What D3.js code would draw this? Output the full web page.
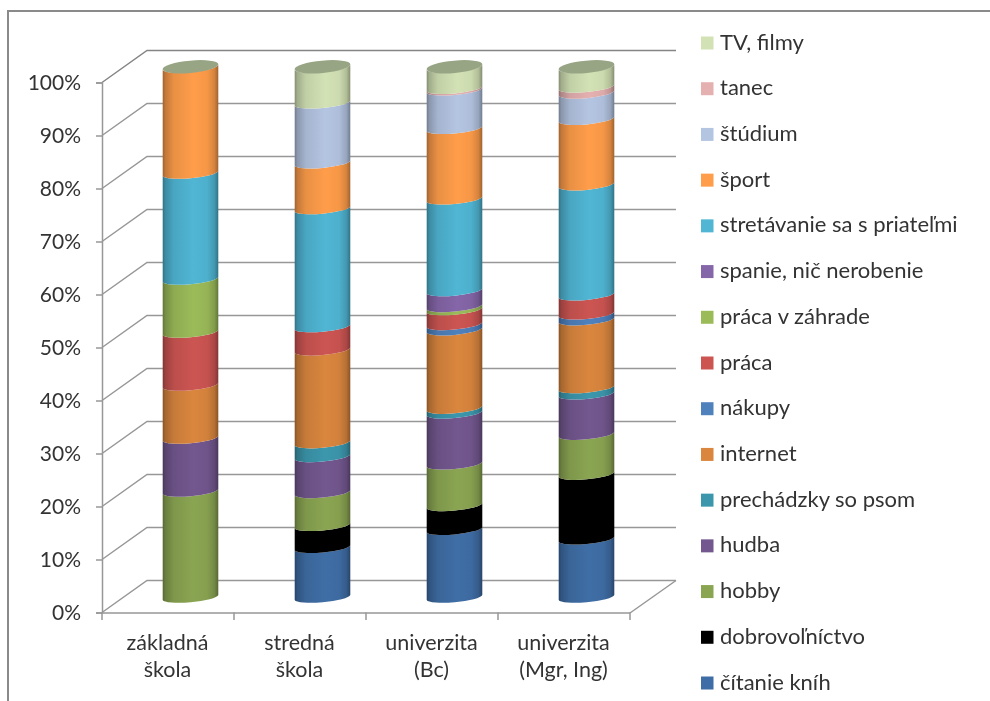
<!DOCTYPE html>
<html><head><meta charset="utf-8">
<script src="https://cdnjs.cloudflare.com/ajax/libs/d3/7.8.5/d3.min.js"></script>
<style>html,body{margin:0;padding:0;background:#fff;overflow:hidden}svg{display:block;filter:blur(0.4px)}text{font-family:Lato,Carlito,sans-serif;fill:#333}</style>
</head><body><svg id="c" width="990" height="701"></svg>
<script>
const categories = [["základná","škola"],["stredná","škola"],["univerzita","(Bc)"],["univerzita","(Mgr, Ing)"]];
const seriesNames = ["čítanie kníh","dobrovoľníctvo","hobby","hudba","prechádzky so psom","internet","nákupy","práca","práca v záhrade","spanie, nič nerobenie","stretávanie sa s priateľmi","šport","štúdium","tanec","TV, filmy"];
const seriesColors = ["#3F6EA6","#000000","#8AA552","#73578F","#3C97AD","#DA863E","#4F81BD","#CC5552","#9BBB59","#8566A8","#50B6D4","#FF9D4A","#B4C5E2","#E5B0B0","#D3E2B5"];
const citanie   = [0, 9.4, 12.8, 11];
const dobrovol  = [0, 4.15, 4.5, 12.2];
const hobby     = [20, 6.2, 7.85, 7.55];
const hudba     = [10, 6.8, 9.6, 7.6];
const prechadzky= [0, 2.6, 0.9, 1.2];
const internet  = [10, 17.5, 14.8, 12.8];
const nakupy    = [0, 0, 1.0, 1.1];
const praca     = [10, 4.4, 2.8, 3.6];
const zahrada   = [10, 0, 0.6, 0];
const spanie    = [0, 0, 3.0, 0];
const stretavanie=[20, 22.27, 17.3, 20.76];
const sport     = [20, 8.63, 13.3, 12.36];
const studium   = [0, 11.31, 7.26, 4.95];
const tanec     = [0, 0, 0.3, 1.14];
const tv        = [0, 6.74, 3.99, 3.74];
const seriesValues = [citanie,dobrovol,hobby,hudba,prechadzky,internet,nakupy,praca,zahrada,spanie,stretavanie,sport,studium,tanec,tv];
const yTicks = [0,10,20,30,40,50,60,70,80,90,100];

const svg = d3.select("#c");
const lineCol = "#979797";
const y = d3.scaleLinear().domain([0,100]).range([612.5,82.5]);
const x = d3.scaleBand().domain(d3.range(categories.length)).range([102,630]);
const dx = 45, dy = -32;
const barW = 55.6, rx = 28, ry = 5.2, rot = -5.2, tiltH = 2.5;
const mx = dx/2, my = -15;

svg.append("path").attr("d","M990,11H8V701").attr("fill","none").attr("stroke","#8a8a8a").attr("stroke-width",2);
const grid = svg.append("g").attr("fill","none").attr("stroke",lineCol).attr("stroke-width",1.5);
grid.selectAll("path.g").data(yTicks).join("path").attr("class","g")
  .attr("d",v=>`M${x.range()[0]},${y(v)}L${x.range()[0]+dx},${y(v)+dy}H${x.range()[1]+dx+1}`)
  .attr("stroke",v=>v===100?"#858585":lineCol);
grid.append("path").attr("d",`M${x.range()[1]},${y(0)+0.5}L${x.range()[1]+dx+1},${y(0)+dy}`);
grid.append("path").attr("d",`M${x.range()[0]},${y(0)+0.5}H${x.range()[1]}`);
const bounds = d3.range(categories.length+1).map(i=>x.range()[0]+i*x.step());
grid.selectAll("path.t").data(bounds).join("path").attr("class","t")
  .attr("d",b=>`M${b},${y(0)}v7.5`);
const ax = svg.append("g").attr("transform",`translate(${x.range()[0]},0)`)
  .call(d3.axisLeft(y).tickValues(yTicks).tickFormat(d=>d+"%").tickSize(6).tickPadding(15));
ax.selectAll("path,line").attr("stroke",lineCol).attr("stroke-width",1.5);
ax.selectAll("text").style("font-size","21px").attr("fill","#333");
const defs = svg.append("defs");
seriesColors.forEach((c,i)=>{
  const g = defs.append("linearGradient").attr("id","g"+i).attr("x1",0).attr("x2",1).attr("y1",0).attr("y2",0);
  const base = d3.color(c);
  [[0,1.3],[0.05,0.75],[0.2,0.25],[0.55,0],[0.8,0.1],[0.93,0.5],[1,1.3]].forEach(([o,k])=>{
    g.append("stop").attr("offset",o).attr("stop-color",base.darker(k).formatHex());
  });
});
const stack = d3.stack().keys(d3.range(seriesNames.length)).value((d,k)=>seriesValues[k][d])(d3.range(categories.length));
const bars = svg.append("g");
stack.forEach((layer,si)=>{
  layer.forEach((d,ci)=>{
    if (d[1]-d[0] <= 0) return;
    const cx = x(ci)+x.bandwidth()/2+mx;
    const L = cx-barW/2, R = cx+barW/2;
    const yT = y(d[1])+my, yB = y(d[0])+my;
    bars.append("path")
      .attr("d",`M${L},${yT+tiltH}A${rx},${ry} ${rot} 0 0 ${R},${yT-tiltH}L${R},${yB-tiltH}A${rx},${ry} ${rot} 0 1 ${L},${yB+tiltH}Z`)
      .attr("fill",`url(#g${si})`);
  });
});
bars.selectAll("ellipse").data(categories).join("ellipse")
  .attr("cx",(d,i)=>x(i)+x.bandwidth()/2+mx).attr("cy",y(100)+my-0.7)
  .attr("rx",rx).attr("ry",ry+1).attr("fill","#98A585")
  .attr("transform",(d,i)=>`rotate(${rot} ${x(i)+x.bandwidth()/2+mx} ${y(100)+my-0.7})`);
const labs = svg.append("g").attr("text-anchor","middle").style("font-size","21.5px");
categories.forEach((lines,i)=>{
  lines.forEach((s,j)=>{
    labs.append("text").attr("x",x(i)+x.bandwidth()/2-0.5).attr("y",650+j*27).text(s);
  });
});
const legendY = d3.scalePoint().domain(d3.range(seriesNames.length).reverse()).range([43,683]);
const leg = svg.append("g").selectAll("g").data(d3.range(seriesNames.length)).join("g")
  .attr("transform",i=>`translate(701,${legendY(i)})`);
leg.append("rect").attr("y",-6.5).attr("width",12.5).attr("height",13).attr("fill",i=>seriesColors[i]);
leg.append("text").attr("x",19).attr("y",6.5).style("font-size","22px").text(i=>seriesNames[i]);
</script></body></html>
